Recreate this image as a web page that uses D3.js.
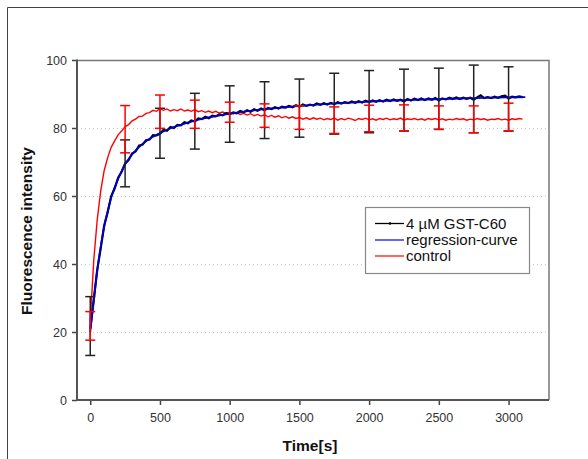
<!DOCTYPE html>
<html><head><meta charset="utf-8">
<script src="https://cdn.jsdelivr.net/npm/d3@7/dist/d3.min.js"></script>
<style>body{margin:0;background:#fff}svg{display:block}</style>
</head><body>
<svg id="c" width="588" height="459"></svg>
<script>
// ---- data ----
const sampleTimes = d3.range(0, 3101, 25); // s
const gstValues = [21,29.5,38.3,44.6,51.3,55.2,59.9,62.2,65.4,67.1,69.6,70.6,72.5,73.1,74.8,75.1,76.4,76.6,77.9,77.8,
78.3,79.4,79.2,80.3,80.0,80.9,80.8,81.7,81.4,82.2,81.9,82.8,82.6,83.3,82.9,83.6,83.4,84.0,83.7,84.4,
84.0,84.6,84.3,85.0,84.6,85.2,84.8,85.5,85.1,85.7,85.2,85.9,85.6,86.1,85.7,86.3,86.0,86.5,86.1,86.7,
86.3,86.9,86.5,86.9,86.6,87.2,86.8,87.3,86.9,87.4,87.0,87.6,87.2,87.6,87.3,87.8,87.4,87.9,87.5,88.0,
87.6,88.1,87.7,88.2,87.8,88.3,87.9,88.4,88.0,88.3,87.8,88.5,88.1,88.6,88.2,88.7,88.2,88.7,88.3,88.8,
88.1,88.7,88.4,88.9,88.5,89.0,88.5,88.9,88.6,88.9,88.3,89.0,89.6,88.8,89.1,88.8,89.2,88.9,89.3,89.5,
88.7,89.2,89.0,89.3,89.1];
const controlValues = [23,41,53,61.5,67.5,71.3,74.3,76.2,78.0,79.1,80.4,81.0,82.1,82.6,83.4,83.5,84.3,84.5,85.2,84.9,
85.7,85.2,85.6,85.0,85.4,85.1,85.6,85.0,85.3,84.9,85.4,84.8,85.1,84.6,85.0,84.5,84.9,84.4,84.7,84.2,
84.6,84.1,84.5,84.0,84.3,83.8,84.2,83.6,84.0,83.5,83.9,83.3,83.7,83.2,83.6,83.0,83.4,82.9,83.3,82.8,
83.1,82.6,83.0,82.5,83.0,82.6,82.9,82.4,82.8,82.5,82.9,82.3,82.8,82.4,82.9,82.6,82.2,82.8,82.5,82.9,
82.4,82.7,82.3,82.8,82.5,82.9,82.4,82.7,82.5,82.9,82.3,82.7,82.5,82.8,82.4,82.7,82.3,82.8,82.5,82.8,
82.4,82.7,82.3,82.6,82.4,82.8,82.5,82.7,82.3,82.6,82.4,82.8,82.5,82.7,82.3,82.6,82.5,82.8,82.4,82.6,
82.3,82.7,82.5,82.8,82.6];
const regressionTimes  = [0,25,50,75,100,125,150,175,200,250,300,350,400,450,500,600,700,800,900,1000,1200,1400,1600,1800,2000,2250,2500,2750,3000,3120];
const regressionValues = [20,29,38,45,51,55.5,59.5,62.5,65,69.3,72.2,74.4,76.1,77.4,78.5,80.3,81.6,82.7,83.5,84.2,85.3,86.1,86.8,87.3,87.8,88.2,88.5,88.8,89.0,89.1];
const errorTimes  = [0,250,500,750,1000,1250,1500,1750,2000,2250,2500,2750,3000];
const gstHigh     = [30.4,76.5,85.8,90.2,92.4,93.6,94.4,96.1,96.9,97.3,97.6,98.5,98.0];
const gstLow      = [13.1,62.7,71.1,73.8,75.8,76.9,77.3,78.2,78.6,79.1,79.6,78.6,79.1];
const controlHigh = [26.0,86.6,89.7,88.2,87.6,87.1,86.5,86.2,86.7,86.8,86.5,86.5,87.3];
const controlLow  = [17.6,72.7,79.9,79.9,81.7,80.2,79.6,78.4,78.9,79.1,79.6,78.6,79.1];
const xTicks = [0,500,1000,1500,2000,2500,3000];
const yTicks = [0,20,40,60,80,100];
const gridValues = [20,40,60,80];
const legendLabels = ["4 \u00B5M GST-C60","regression-curve","control"];
const seriesColors = ["#000000","#0000cc","#ff0000"];

// ---- layout ----
const svg = d3.select("#c");
const L=77, R=549, T=60, B=400;
const x = d3.scaleLinear().domain([-95,3290]).range([L,R]);
const y = d3.scaleLinear().domain([0,100]).range([B,T]);
const font = "'Liberation Sans', Arial, sans-serif";

// outer frame
svg.append("path").attr("d","M7.5,459 V7.5 H588").attr("fill","none").attr("stroke","#444").attr("stroke-width",1);

// grid
svg.append("g").selectAll("line").data(gridValues).join("line")
  .attr("x1",L).attr("x2",R).attr("y1",d=>Math.round(y(d))+0.5).attr("y2",d=>Math.round(y(d))+0.5)
  .attr("stroke","#c8c8c8").attr("stroke-width",1).attr("stroke-dasharray","1,3");

// plot border
svg.append("path").attr("d",`M${L},${T+0.5} H${R} V${B}`).attr("fill","none").attr("stroke","#777").attr("stroke-width",1.5);

// axes
const yAxis = svg.append("g").attr("transform",`translate(${L},0)`)
  .call(d3.axisLeft(y).tickValues(yTicks).tickFormat(d3.format("d")).tickSize(5).tickPadding(5));
const xAxis = svg.append("g").attr("transform",`translate(0,${B})`)
  .call(d3.axisBottom(x).tickValues(xTicks).tickFormat(d3.format("d")).tickSize(5).tickPadding(8));
[yAxis,xAxis].forEach(g=>{
  g.select(".domain").remove();
  g.selectAll(".tick line").attr("stroke","#444").attr("stroke-width",1.5);
  g.selectAll("text").attr("font-family",font).attr("font-size",12.5).attr("fill","#333");
});
svg.append("path").attr("d",`M${L},${T-0.5} V${B} H${R}`).attr("fill","none").attr("stroke","#555").attr("stroke-width",2);

// lines
const line = d3.line().x(d=>x(d[0])).y(d=>y(d[1]));
const smooth = d3.line().x(d=>x(d[0])).y(d=>y(d[1])).curve(d3.curveMonotoneX);
svg.append("path").datum(sampleTimes.map((t,i)=>[t,controlValues[i]]))
  .attr("d",line).attr("fill","none").attr("stroke",seriesColors[2]).attr("stroke-width",1.4);
svg.append("path").datum(sampleTimes.map((t,i)=>[t,gstValues[i]]))
  .attr("d",line).attr("fill","none").attr("stroke",seriesColors[0]).attr("stroke-width",2.2);
svg.append("path").datum(regressionTimes.map((t,i)=>[t,regressionValues[i]]))
  .attr("d",smooth).attr("fill","none").attr("stroke",seriesColors[1]).attr("stroke-width",1.8);

// error bars
function errBars(hi, lo, color, w){
  const g = svg.append("g").attr("stroke",color).attr("stroke-width",w);
  const d = errorTimes.map((t,i)=>({t,hi:hi[i],lo:lo[i]}));
  g.selectAll(".v").data(d).join("line").attr("x1",d=>x(d.t)).attr("x2",d=>x(d.t)).attr("y1",d=>y(d.hi)).attr("y2",d=>y(d.lo));
  g.selectAll(".h").data(d).join("line").attr("x1",d=>x(d.t)-5).attr("x2",d=>x(d.t)+5).attr("y1",d=>y(d.hi)).attr("y2",d=>y(d.hi));
  g.selectAll(".l").data(d).join("line").attr("x1",d=>x(d.t)-5).attr("x2",d=>x(d.t)+5).attr("y1",d=>y(d.lo)).attr("y2",d=>y(d.lo));
}
errBars(gstHigh, gstLow, "#222", 1.5);
errBars(controlHigh, controlLow, "#ff0000", 1.5);

// axis titles
svg.append("text").attr("x",(L+R)/2-3).attr("y",451).attr("text-anchor","middle")
  .attr("font-family",font).attr("font-weight","bold").attr("font-size",15.5).attr("fill","#111").text("Time[s]");
svg.append("text").attr("transform","translate(32,231) rotate(-90)").attr("text-anchor","middle")
  .attr("font-family",font).attr("font-weight","bold").attr("font-size",15.5).attr("fill","#111").text("Fluorescence intensity");

// legend
const lg = svg.append("g");
lg.append("rect").attr("x",365.5).attr("y",207.5).attr("width",164).attr("height",66)
  .attr("fill","#fff").attr("stroke","#888").attr("stroke-width",1.2);
const rowsY = [223.5,240,256];
legendLabels.forEach((lab,i)=>{
  lg.append("line").attr("x1",375).attr("x2",404).attr("y1",rowsY[i]).attr("y2",rowsY[i])
    .attr("stroke",i===0?"#000":(i===1?"#3333ff":"#ff3333")).attr("stroke-width",i===0?1.3:1.5);
  if(i===0) lg.append("circle").attr("cx",390).attr("cy",rowsY[i]).attr("r",1.3).attr("fill","#000");
  lg.append("text").attr("x",406).attr("y",rowsY[i]+5).attr("font-family",font).attr("font-size",15).attr("fill","#111").text(lab);
});
</script>
</body></html>
